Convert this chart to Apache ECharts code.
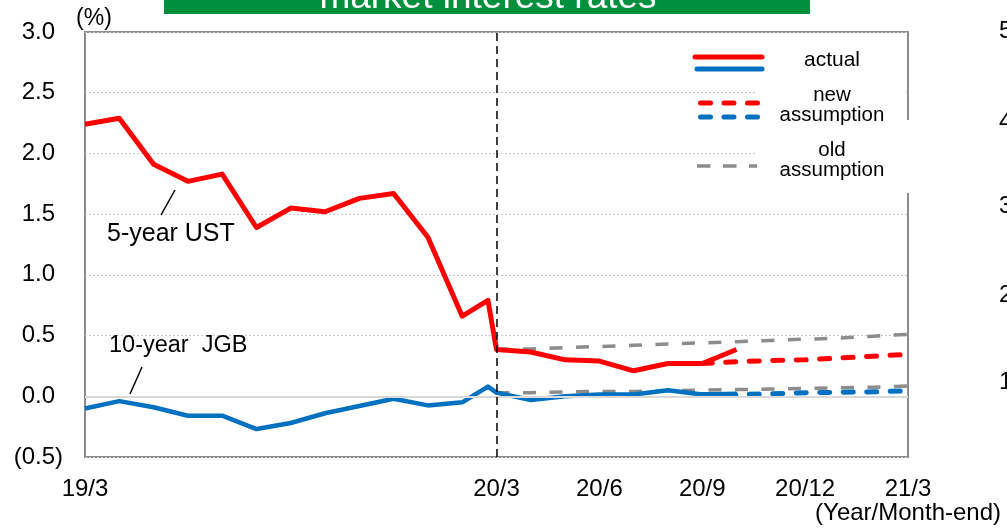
<!DOCTYPE html>
<html>
<head>
<meta charset="utf-8">
<script src="https://cdn.jsdelivr.net/npm/echarts@6/dist/echarts.min.js"></script>
<style>
  html, body { margin: 0; padding: 0; background: #fff; }
  #chart { width: 1007px; height: 531px; }
</style>
</head>
<body>
<div id="chart"></div>
<script>
  // x positions = months after end of 19/3 (11.75 is the mid-March 2020 point)
  const actualMonths = [0, 1, 2, 3, 4, 5, 6, 7, 8, 9, 10, 11, 11.75, 12, 13, 14, 15, 16, 17, 18, 19];
  const ust5Actual = [2.24, 2.29, 1.91, 1.77, 1.83, 1.39, 1.55, 1.52, 1.63, 1.67, 1.31, 0.66, 0.79,
    0.385, 0.365, 0.30, 0.29, 0.21, 0.27, 0.27, 0.385];
  const jgb10Actual = [-0.10, -0.04, -0.09, -0.16, -0.16, -0.27, -0.22, -0.14, -0.08, -0.02, -0.075, -0.05, 0.08,
    0.03, -0.03, 0.00, 0.015, 0.015, 0.05, 0.015, 0.02];

  const newMonths = [18, 19, 20, 21, 22, 23, 24];
  const ust5New = [0.27, 0.285, 0.295, 0.30, 0.315, 0.33, 0.345];
  const jgb10New = [0.015, 0.015, 0.02, 0.03, 0.033, 0.037, 0.045];

  const oldMonths = [12, 13, 14, 15, 16, 17, 18, 19, 20, 21, 22, 23, 24];
  const ust5Old = [0.385, 0.39, 0.40, 0.41, 0.42, 0.43, 0.44, 0.45, 0.46, 0.47, 0.48, 0.495, 0.51];
  const jgb10Old = [0.03, 0.03, 0.035, 0.04, 0.04, 0.045, 0.05, 0.055, 0.06, 0.065, 0.07, 0.075, 0.085];

  const xTickMonths = [0, 12, 15, 18, 21, 24];
  const xTickLabels = ['19/3', '20/3', '20/6', '20/9', '20/12', '21/3'];
  const yTickValues = [-0.5, 0, 0.5, 1, 1.5, 2, 2.5, 3];
  const yTickLabels = ['(0.5)', '0.0', '0.5', '1.0', '1.5', '2.0', '2.5', '3.0'];
  const nextChartLabels = ['5', '4', '3', '2', '1'];

  const RED = '#ff0000', BLUE = '#0070c0', GREY = '#8c8c8c';
  const FONT = '"Liberation Sans", Arial, sans-serif';
  const AXIS_FS = 24;

  const pairs = (xs, ys) => xs.map((x, i) => [x, ys[i]]);

  function lineSeries(name, xs, ys, color, width, dash, cap) {
    return {
      name: name, type: 'line', data: pairs(xs, ys),
      symbol: 'none', silent: true, animation: false,
      lineStyle: { color: color, width: width, type: dash || 'solid', cap: cap || 'butt', join: 'round' }
    };
  }

  const series = [
    lineSeries('old UST', oldMonths, ust5Old, GREY, 3.5, [13, 13.5]),
    lineSeries('old JGB', oldMonths, jgb10Old, GREY, 3.5, [13, 13.5]),
    lineSeries('new UST', newMonths, ust5New, RED, 5, [10, 13.5], 'round'),
    lineSeries('new JGB', newMonths, jgb10New, BLUE, 5, [10, 13.5], 'round'),
    lineSeries('5-year UST', actualMonths, ust5Actual, RED, 5),
    lineSeries('10-year JGB', actualMonths, jgb10Actual, BLUE, 4.5)
  ];
  // zero line and the 20/3 divider
  series[0].markLine = {
    silent: true, symbol: 'none', animation: false, label: { show: false },
    data: [
      { yAxis: 0, lineStyle: { color: '#d9d9d9', width: 2, type: 'solid' } },
      { xAxis: 12, lineStyle: { color: '#000', width: 1.5, type: [8, 5] } }
    ]
  };

  const text = (t, x, y, size, align, color) => ({
    type: 'text', x: x, y: y, z: 10, silent: true,
    style: { text: t, font: size + 'px ' + FONT, fill: color || '#000', align: align || 'left', verticalAlign: 'middle' }
  });
  const seg = (x1, y1, x2, y2, color, width, dash, cap) => ({
    type: 'line', z: 10, silent: true, shape: { x1: x1, y1: y1, x2: x2, y2: y2 },
    style: { stroke: color, lineWidth: width, lineDash: dash || null, lineCap: cap || 'butt' }
  });

  const graphics = [
    // title banner (cut off at the top)
    { type: 'rect', z: 10, silent: true, shape: { x: 164, y: 0, width: 646, height: 14 }, style: { fill: '#008f3c' } },
    text('market interest rates', 488, -2, 37, 'center', '#fff'),
    // legend background
    { type: 'rect', z: 5, silent: true, shape: { x: 755, y: 45, width: 151, height: 148 }, style: { fill: '#fff' } },
    { type: 'rect', z: 5, silent: true, shape: { x: 905, y: 120, width: 5, height: 73 }, style: { fill: '#fff' } },
    seg(695, 57, 762, 57, RED, 5, null, 'round'),
    seg(697, 69, 762, 69, BLUE, 5, null, 'round'),
    seg(700.5, 103, 757.5, 103, RED, 5, [10, 13.5], 'round'),
    seg(700.5, 117, 757.5, 117, BLUE, 5, [10, 13.5], 'round'),
    seg(697, 166, 757, 166, GREY, 3.5, [13.5, 12.5]),
    text('actual', 832, 60, 21, 'center'),
    text('new', 832, 95, 20.5, 'center'),
    text('assumption', 832, 115, 20.5, 'center'),
    text('old', 832, 150, 20.5, 'center'),
    text('assumption', 832, 170, 20.5, 'center'),
    // annotations
    text('5-year UST', 107, 234, 25),
    seg(175, 190, 161, 215, '#000', 1.5),
    text('10-year  JGB', 109, 346, 23.5),
    seg(142, 367, 130, 394, '#000', 1.5),
    text('(%)', 94, 19, 23, 'center'),
    text('(Year/Month-end)', 1001, 513, 24, 'right')
  ];
  const nextChartY = [31, 122, 206, 295, 382];
  nextChartLabels.forEach((t, i) => graphics.push(text(t, 999, nextChartY[i], AXIS_FS)));

  const chart = echarts.init(document.getElementById('chart'), null, { renderer: 'canvas' });
  chart.setOption({
    animation: false,
    backgroundColor: '#fff',
    grid: { left: 85, top: 32, width: 823, height: 425, show: true, borderColor: '#8c8c8c', borderWidth: 2, backgroundColor: 'transparent' },
    xAxis: {
      type: 'value', min: 0, max: 24, interval: 3,
      axisLine: { show: false }, axisTick: { show: false }, splitLine: { show: false },
      axisLabel: {
        margin: 20, fontSize: AXIS_FS, fontFamily: FONT, color: '#000', showMinLabel: true, showMaxLabel: true,
        formatter: v => { const i = xTickMonths.indexOf(v); return i >= 0 ? xTickLabels[i] : ''; }
      }
    },
    yAxis: {
      type: 'value', min: -0.5, max: 3, interval: 0.5,
      axisLine: { show: false }, axisTick: { show: false },
      splitLine: { show: true, lineStyle: { color: '#c8c8c8', width: 1, type: [2, 2] } },
      axisLabel: {
        margin: 22, fontSize: AXIS_FS, fontFamily: FONT, color: '#000',
        formatter: v => {
          const i = yTickValues.findIndex(t => Math.abs(t - v) < 1e-9);
          if (i < 0) return '';
          return v < 0 ? yTickLabels[i] : '{p|' + yTickLabels[i] + '}';
        },
        rich: { p: { fontSize: AXIS_FS, fontFamily: FONT, color: '#000', padding: [0, 8, 0, 0] } }
      }
    },
    series: series,
    graphic: graphics
  });
</script>
</body>
</html>
